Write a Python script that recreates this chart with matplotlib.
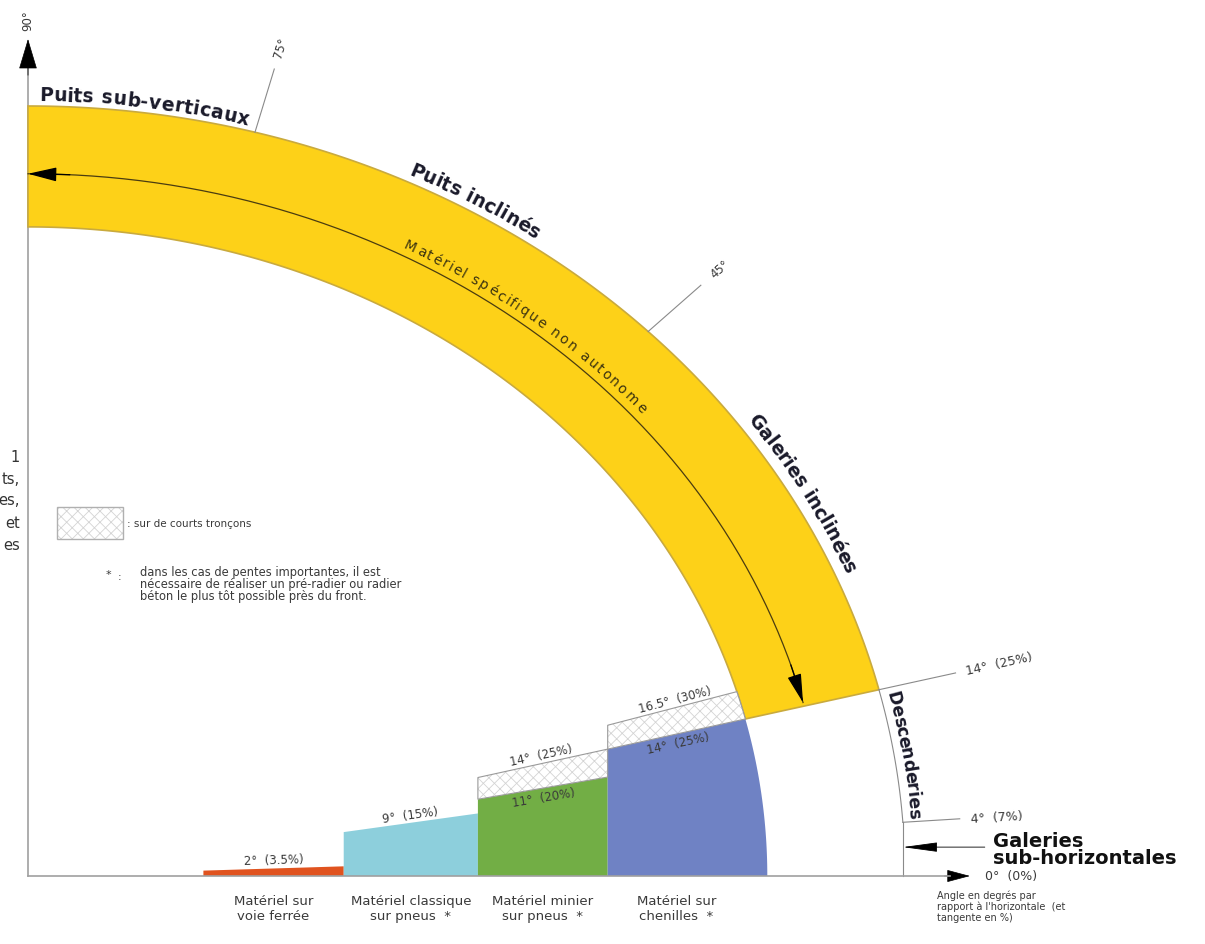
import numpy as np
import matplotlib.pyplot as plt
from matplotlib.patches import Polygon, Rectangle
from matplotlib.font_manager import FontProperties, findfont
from matplotlib.ft2font import FT2Font

plt.rcParams['hatch.linewidth'] = 0.6

# géométrie de l'image (pixels) : origine et rayon 1 de l'ellipse
W, H, DPI = 1205, 945, 100
ORIG_X, ORIG_Y = 28, 877
SX, SY = 877, 770

# rayons de la bande jaune (rayon extérieur = 1)
R_IN, R_MID, R_OUT = 0.843, 0.912, 1.0
band_from, band_to = 14, 90          # galeries inclinées -> puits
descente_from, descente_to = 14, 4   # descenderies
tick_angles = [75, 45]
tick_labels = ["75°", "45°"]

# matériels (barres du bas)
bar_names = ["Matériel sur\nvoie ferrée", "Matériel classique\nsur pneus  *",
             "Matériel minier\nsur pneus  *", "Matériel sur\nchenilles  *"]
bar_x0 = [0.20, 0.36, 0.513, 0.661]
bar_x1 = [0.36, 0.513, 0.661, None]   # None = limité par l'arc intérieur
bar_angles = [2, 9, 11, 14]
bar_labels = ["2°  (3.5%)", "9°  (15%)", "11°  (20%)", "14°  (25%)"]
bar_colors = ['#e0531f', '#8dcfdc', '#72ae45', '#6f82c4']
short_angles = [None, None, 14, 16.5]   # sur de courts tronçons
short_labels = [None, None, "14°  (25%)", "16.5°  (30%)"]

YELLOW = '#fdd118'
NAVY = '#1a1a2a'
GREY_TXT = '#3a3a3a'

fig = plt.figure(figsize=(W / DPI, H / DPI), dpi=DPI)
ax = fig.add_axes([0, 0, 1, 1])
ax.set_xlim(-ORIG_X / SX, (W - ORIG_X) / SX)
ax.set_ylim(-(H - ORIG_Y) / SY, ORIG_Y / SY)
ax.axis('off')


def pt(r, a):
    t = np.radians(a)
    return r * np.cos(t), r * np.sin(t)


def screen_angle(a):
    t = np.radians(a)
    return np.degrees(np.arctan2(SY * np.sin(t), SX * np.cos(t)))


def arc_text(s, r, a0, a1, size, weight='bold', color=NAVY, family='DejaVu Sans'):
    # place chaque caractère le long de l'arc, de a0 vers a1 (sens horaire)
    prop = FontProperties(family=family, weight=weight, size=size)
    try:
        font = FT2Font(findfont(prop))
        font.set_size(size, 72)
        adv = np.array([font.load_char(ord(c)).horiAdvance / 64.0 for c in s])
    except Exception:
        adv = np.full(len(s), 0.6 * size)
    cum = np.concatenate([[0], np.cumsum(adv)])
    frac = (cum[:-1] + adv / 2) / cum[-1]
    ts = np.radians(np.linspace(a0, a1, 500))
    px, py = r * SX * np.cos(ts), r * SY * np.sin(ts)
    sl = np.concatenate([[0], np.cumsum(np.hypot(np.diff(px), np.diff(py)))])
    sl /= sl[-1]
    for c, f in zip(s, frac):
        if c == ' ':
            continue
        t = np.interp(f, sl, ts)
        rot = np.degrees(np.arctan2(-SY * np.cos(t), SX * np.sin(t)))
        ax.text(r * np.cos(t), r * np.sin(t), c, rotation=rot, rotation_mode='anchor',
                ha='center', va='baseline', fontproperties=prop, color=color, zorder=6)


def region(x0, x1, a_lo, a_hi):
    tl, th = np.radians(a_lo), np.radians(a_hi)
    pts = [(x0, x0 * np.tan(tl))]
    if x1 is None:
        pts.append(pt(R_IN, a_lo))
        for a in np.linspace(a_lo, a_hi, 30)[1:]:
            pts.append(pt(R_IN, a))
    else:
        pts.append((x1, x1 * np.tan(tl)))
        pts.append((x1, x1 * np.tan(th)))
    pts.append((x0, x0 * np.tan(th)))
    return pts


# bande jaune
a_out = np.linspace(band_to, band_from, 200)
band = [pt(R_OUT, a) for a in a_out] + [pt(R_IN, a) for a in a_out[::-1]]
ax.add_patch(Polygon(band, closed=True, facecolor=YELLOW, edgecolor='#c9aa3e', lw=1.2, zorder=2))

# ligne médiane avec flèches
a_mid = np.linspace(band_to, band_from + 0.3, 200)
mx, my = zip(*[pt(R_MID, a) for a in a_mid])
ax.plot(mx, my, color='#4a3c10', lw=0.9, zorder=3)
arrow_kw = dict(arrowstyle='-|>,head_length=0.9,head_width=0.22', color='black',
                lw=0.9, shrinkA=0, shrinkB=0, mutation_scale=20)
ax.annotate('', xy=pt(R_MID, band_to), xytext=pt(R_MID, band_to - 3), arrowprops=arrow_kw, zorder=4)
ax.annotate('', xy=pt(R_MID, band_from + 0.3), xytext=pt(R_MID, band_from + 3.5),
            arrowprops=arrow_kw, zorder=4)

# barres des matériels
for i in range(len(bar_names)):
    x0, x1 = bar_x0[i], bar_x1[i]
    ax.add_patch(Polygon(region(x0, x1, 0, bar_angles[i]), closed=True,
                         facecolor=bar_colors[i], edgecolor='none', zorder=2))
    xr = R_IN * np.cos(np.radians(bar_angles[i])) if x1 is None else x1
    xc = (x0 + xr) / 2
    if short_angles[i] is not None:
        poly = region(x0, x1, bar_angles[i], short_angles[i])
        ax.add_patch(Polygon(poly, closed=True, facecolor='white', edgecolor='#d4d4d4',
                             lw=0, hatch='xxx', zorder=2))
        ax.add_patch(Polygon(poly, closed=True, fill=False, edgecolor='#9a9a9a', lw=0.8, zorder=3))
        ax.annotate(short_labels[i], xy=(xc, xc * np.tan(np.radians(short_angles[i]))),
                    xytext=(0, 1.5), textcoords='offset points', ha='center', va='bottom',
                    rotation=screen_angle(short_angles[i]), rotation_mode='anchor',
                    fontsize=8.5, color=GREY_TXT, zorder=5)
        ax.annotate(bar_labels[i], xy=(xc, xc * np.tan(np.radians(bar_angles[i]))),
                    xytext=(0, -2), textcoords='offset points', ha='center', va='top',
                    rotation=screen_angle(bar_angles[i]), rotation_mode='anchor',
                    fontsize=8.5, color=GREY_TXT, zorder=5)
    else:
        ax.annotate(bar_labels[i], xy=(xc, xc * np.tan(np.radians(bar_angles[i]))),
                    xytext=(0, 1.5), textcoords='offset points', ha='center', va='bottom',
                    rotation=screen_angle(bar_angles[i]), rotation_mode='anchor',
                    fontsize=8.5, color=GREY_TXT, zorder=5)
    ax.text(xc, -0.024, bar_names[i], ha='center', va='top', fontsize=9.5,
            color=GREY_TXT, linespacing=1.15)

# axes du repère
ax.plot([0, 0], [0, 1.05], color='#a0a0a0', lw=1.2, zorder=1)
ax.plot([0, 1.051], [0, 0], color='#a0a0a0', lw=1.2, zorder=4)
ax.annotate('', xy=(0, 1.087), xytext=(0, 1.04),
            arrowprops=dict(arrowstyle='-|>,head_length=1.0,head_width=0.3', color='black',
                            lw=0.5, shrinkA=0, shrinkB=0, mutation_scale=20))
ax.annotate('', xy=(1.074, 0), xytext=(1.045, 0),
            arrowprops=dict(arrowstyle='-|>,head_length=0.75,head_width=0.2', color='black',
                            lw=0.5, shrinkA=0, shrinkB=0, mutation_scale=20))
ax.text(0, 1.112, "90°", rotation=90, ha='center', va='center', fontsize=8.5, color=GREY_TXT)

# graduations 75° et 45°
for a, lab in zip(tick_angles, tick_labels):
    p0, p1, pl = pt(1.0, a), pt(1.085, a), pt(1.115, a)
    ax.plot([p0[0], p1[0]], [p0[1], p1[1]], color='#8a8a8a', lw=0.8)
    ax.text(pl[0], pl[1], lab, rotation=screen_angle(a), ha='center', va='center',
            fontsize=8.5, color=GREY_TXT)

# descenderies et galeries sub-horizontales
a_d = np.linspace(descente_from, descente_to, 60)
dx, dy = zip(*[pt(R_OUT, a) for a in a_d])
ax.plot(dx, dy, color='#8a8a8a', lw=0.8)
x4, y4 = pt(R_OUT, descente_to)
ax.plot([x4, x4], [0, y4], color='#8a8a8a', lw=0.8)
for a, r1, lab in [(descente_from, 1.09, "14°  (25%)"), (descente_to, 1.065, "4°  (7%)")]:
    p0, p1, pl = pt(1.0, a), pt(r1, a), pt(r1 + 0.012, a)
    ax.plot([p0[0], p1[0]], [p0[1], p1[1]], color='#8a8a8a', lw=0.8)
    ax.text(pl[0], pl[1], lab, rotation=screen_angle(a), rotation_mode='anchor',
            ha='left', va='center', fontsize=9, color=GREY_TXT)
ax.text(1.091, 0, "0°  (0%)", ha='left', va='center', fontsize=9, color=GREY_TXT)
y2 = pt(R_OUT, 2.15)[1]
ax.annotate('', xy=(x4, y2), xytext=(1.091, y2),
            arrowprops=dict(arrowstyle='-|>,head_length=1.1,head_width=0.15', color='black',
                            lw=0.6, shrinkA=0, shrinkB=0, mutation_scale=20))
ax.text(1.100, 0.035, "Galeries\nsub-horizontales", ha='left', va='center', fontsize=14,
        fontweight='bold', color='#111111', linespacing=0.9)
ax.text(1.036, -0.018, "Angle en degrés par\nrapport à l'horizontale  (et\ntangente en %)",
        ha='left', va='top', fontsize=7, color=GREY_TXT, linespacing=1.05)

# textes courbes
arc_text("Puits sub-verticaux", 1.008, 89.3, 75.6, 13.5)
arc_text("Puits inclinés", 1.010, 64.6, 55.0, 13.5)
arc_text("Galeries inclinées", 1.012, 35.9, 22.8, 13.5)
arc_text("Descenderies", 1.008, 13.7, 4.3, 12.5)
arc_text("Matériel spécifique non autonome", 0.922, 62.5, 40.6, 10, weight='normal',
         color='#3a3210')

# légende
ax.add_patch(Rectangle((0.033, 0.438), 0.075, 0.041, facecolor='white', edgecolor='#d4d4d4',
                       lw=0, hatch='xxx'))
ax.add_patch(Rectangle((0.033, 0.438), 0.075, 0.041, fill=False, edgecolor='#b0b0b0', lw=1))
ax.text(0.113, 0.4585, ": sur de courts tronçons", ha='left', va='center', fontsize=7.5,
        color=GREY_TXT)
ax.text(0.092, 0.392, "*", ha='center', va='center', fontsize=8, color=GREY_TXT)
ax.text(0.104, 0.390, ":", ha='center', va='center', fontsize=7.5, color=GREY_TXT)
ax.text(0.128, 0.404, "dans les cas de pentes importantes, il est\n"
        "nécessaire de réaliser un pré-radier ou radier\n"
        "béton le plus tôt possible près du front.",
        ha='left', va='top', fontsize=8.3, color=GREY_TXT, linespacing=0.92)

# fragments de texte de la colonne voisine (coupée à gauche)
for s, yp in zip(["1", "ts,", "es,", "et", "es"], [457, 480, 501, 523, 545]):
    ax.text(20 / SX - ORIG_X / SX, (ORIG_Y - yp) / SY, s, ha='right', va='center', fontsize=10.5,
            color='#333333')

fig.savefig('out.png', dpi=DPI)
